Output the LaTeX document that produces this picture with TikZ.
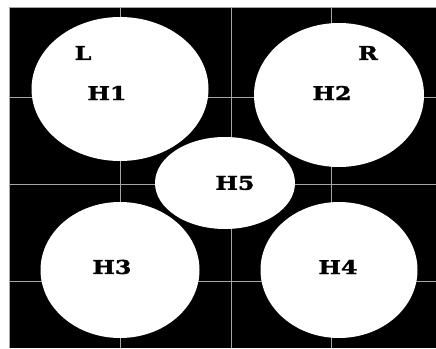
\documentclass[tikz,border=0pt]{standalone}
\usepackage{fontspec}
\usepackage{tikz}
\usetikzlibrary{shapes.geometric}

\newfontfamily\tagfont[BoldFont={DejaVu Serif Bold}, BoldFeatures={FakeBold=1.5}]{DejaVu Serif}
\tikzset{
  hole/.style={ellipse, fill=white, inner sep=0pt},
  tag/.style={font=\tagfont\fontsize{19}{19}\selectfont\bfseries, inner sep=0pt},
  rule/.style={gray!70, line width=0.8pt}
}
\newcommand{\widetag}[1]{\scalebox{1.25}[1]{#1}}

\begin{document}
\begin{tikzpicture}[x=1pt,y=-1pt]

\useasboundingbox (0,0) rectangle (436,348);
\fill[black] (9,7) rectangle (436,348);
\draw[rule] (436,7) -- (9,7) -- (9,348);
\foreach \x in {120,231,331}
  \draw[rule] (\x,7) -- (\x,348);
\foreach \y in {97,184,281}
  \draw[rule] (9,\y) -- (436,\y);

\node[hole, minimum width=177pt, minimum height=144pt] (h1) at (120,89) {};
\node[hole, minimum width=170pt, minimum height=144pt] (h2) at (339,95) {};
\node[hole, minimum width=159pt, minimum height=136pt] (h3) at (120,270) {};
\node[hole, minimum width=157pt, minimum height=136pt] (h4) at (339,270) {};
\node[hole, minimum width=140pt, minimum height=92pt] (h5) at (225,183) {};

\node[tag] (l) at (83,53) {\widetag{L}};
\node[tag] (r) at (368,53) {\widetag{R}};
\node[tag] (t1) at (107,93) {\widetag{H1}};
\node[tag] (t2) at (332,93) {\widetag{H2}};
\node[tag] (t3) at (112,267) {\widetag{H3}};
\node[tag] (t4) at (338,267) {\widetag{H4}};
\node[tag] (t5) at (235,183) {\widetag{H5}};

\end{tikzpicture}
\end{document}
